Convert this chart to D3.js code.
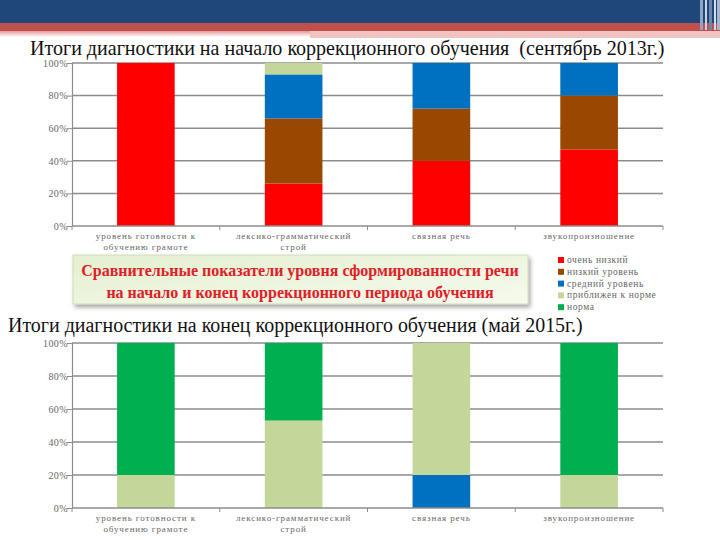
<!DOCTYPE html>
<html><head><meta charset="utf-8">
<script src="https://cdn.jsdelivr.net/npm/d3@7"></script>
<style>body{margin:0;background:#fff}svg{display:block}</style>
</head><body>
<svg id="c" width="720" height="540"></svg>
<script>
const categories = [
  ["уровень готовности к", "обучению грамоте"],
  ["лексико-грамматический", "строй"],
  ["связная речь"],
  ["звукопроизношение"]
];
const seriesNames = ["очень низкий", "низкий уровень", "средний уровень", "приближен к норме", "норма"];
const seriesColors = ["#FF0000", "#9A4800", "#0070C0", "#C4D79B", "#00B050"];
const yTicks = [0, 20, 40, 60, 80, 100];

// Sept 2013
const veryLow2013 = [100, 26, 40, 47];
const low2013     = [0, 40, 32, 33];
const mid2013     = [0, 27, 28, 20];
const near2013    = [0, 7, 0, 0];
const norm2013    = [0, 0, 0, 0];
// May 2015
const veryLow2015 = [0, 0, 0, 0];
const low2015     = [0, 0, 0, 0];
const mid2015     = [0, 0, 20, 0];
const near2015    = [20, 53, 80, 20];
const norm2015    = [80, 47, 0, 80];

const title1 = "Итоги диагностики на начало коррекционного обучения  (сентябрь 2013г.)";
const title2 = "Итоги диагностики на конец коррекционного обучения (май 2015г.)";
const boxLines = ["Сравнительные показатели уровня сформированности речи", "на начало и конец коррекционного периода обучения"];

const FONT = '"Liberation Serif", "Times New Roman", serif';
const svg = d3.select("#c");
const defs = svg.append("defs");

const g1 = defs.append("linearGradient").attr("id","fade").attr("x1",0).attr("y1",0).attr("x2",0).attr("y2",1);
g1.append("stop").attr("offset","0%").attr("stop-color","#E49A98");
g1.append("stop").attr("offset","100%").attr("stop-color","#FFFFFF");
const g2 = defs.append("linearGradient").attr("id","boxg").attr("x1",0).attr("y1",0).attr("x2",1).attr("y2",1);
g2.append("stop").attr("offset","0%").attr("stop-color","#E4F0CF");
g2.append("stop").attr("offset","100%").attr("stop-color","#F6FAEE");
const f = defs.append("filter").attr("id","sh").attr("x","-5%").attr("y","-20%").attr("width","115%").attr("height","150%");
f.append("feDropShadow").attr("dx",2).attr("dy",3).attr("stdDeviation",2).attr("flood-color","#000").attr("flood-opacity",0.35);

svg.append("rect").attr("x",0).attr("y",0).attr("width",720).attr("height",23).attr("fill","#1F4779");
svg.append("rect").attr("x",0).attr("y",23).attr("width",720).attr("height",8).attr("fill","#C0504D");
svg.append("rect").attr("x",0).attr("y",31).attr("width",720).attr("height",6).attr("fill","url(#fade)");
svg.append("rect").attr("x",310).attr("y",31).attr("width",410).attr("height",7).attr("fill","#F0C2C0");
svg.append("rect").attr("x",0).attr("y",38).attr("width",668).attr("height",3).attr("fill","#FFFFFF");
[[700,3,"#8FA4C4"],[705,2,"#C9D3E3"],[709,3,"#6D86AE"],[714,2,"#D6DDE9"],[717,3,"#A7B6CF"]].forEach(s=>{
  svg.append("rect").attr("x",s[0]).attr("y",0).attr("width",s[1]).attr("height",30).attr("fill",s[2]);
});

function fitText(sel, target){
  const w = sel.node().getComputedTextLength();
  const fs = parseFloat(sel.attr("font-size"));
  sel.attr("font-size", fs*target/w);
}

function drawChart(opts){
  const {y0, y1, titleText, titleX, titleY, titleW, data} = opts;
  const x = d3.scaleBand().domain(d3.range(categories.length)).range([72, 663]).padding(0);
  const y = d3.scaleLinear().domain([0,100]).range([y0, y1]);
  const g = svg.append("g");

  const t = svg.append("text").attr("x",titleX).attr("y",titleY).style("font-family",FONT)
    .attr("font-size",19).attr("fill","#111").attr("xml:space","preserve").text(titleText);
  fitText(t, titleW);

  g.selectAll("line.grid").data(yTicks.filter(d=>d>0)).join("line")
    .attr("x1",72).attr("x2",663).attr("y1",d=>y(d)).attr("y2",d=>y(d))
    .attr("stroke","#8C8C8C").attr("stroke-width",1.5);

  const rows = categories.map((c,i)=>{const o={i}; seriesNames.forEach((s,k)=>o[s]=data[k][i]); return o;});
  const stack = d3.stack().keys(seriesNames)(rows);
  const bw = x.bandwidth()*0.39;
  stack.forEach((layer,k)=>{
    g.selectAll(null).data(layer.filter(d=>d[1]-d[0]>0)).join("rect")
      .attr("x",d=>x(d.data.i)+x.bandwidth()/2-bw/2).attr("width",bw)
      .attr("y",d=>y(d[1])).attr("height",d=>y(d[0])-y(d[1]))
      .attr("fill",seriesColors[k]);
  });

  const ya = d3.axisLeft(y).tickValues(yTicks).tickSize(5).tickFormat(d=>d+"%");
  const yg = g.append("g").attr("transform","translate(72,0)").call(ya);
  yg.attr("font-family",null);
  yg.select(".domain").attr("stroke","#8C8C8C").attr("stroke-width",1.2);
  yg.selectAll(".tick line").attr("stroke","#8C8C8C");
  yg.selectAll("text").style("font-family",FONT).attr("font-size",10).attr("letter-spacing",0.4)
    .attr("fill","#666").attr("x",-4);

  const xa = g.append("g").attr("transform",`translate(0,${y0})`);
  xa.append("line").attr("x1",72).attr("x2",663).attr("stroke","#8C8C8C").attr("stroke-width",1.5);
  xa.selectAll("line.tk").data(d3.range(categories.length+1)).join("line")
    .attr("x1",d=>72+d*x.step()).attr("x2",d=>72+d*x.step()).attr("y1",0).attr("y2",4)
    .attr("stroke","#8C8C8C");
  const lab = xa.selectAll("text.cat").data(categories).join("text")
    .style("font-family",FONT).attr("font-size",9).attr("fill","#666")
    .attr("letter-spacing",0.9).attr("text-anchor","middle");
  lab.each(function(d,i){
    d3.select(this).selectAll("tspan").data(d).join("tspan")
      .attr("x",x(i)+x.bandwidth()/2).attr("y",(t,j)=>13+j*11).text(t=>t);
  });
}

drawChart({y0:226, y1:63, titleText:title1, titleX:30, titleY:55, titleW:635,
  data:[veryLow2013, low2013, mid2013, near2013, norm2013]});
drawChart({y0:508, y1:343, titleText:title2, titleX:8, titleY:332, titleW:575,
  data:[veryLow2015, low2015, mid2015, near2015, norm2015]});

svg.append("rect").attr("x",73).attr("y",255).attr("width",455).attr("height",49)
  .attr("fill","url(#boxg)").attr("stroke","#C9D8B0").attr("stroke-width",0.8).attr("filter","url(#sh)");
const bt = svg.selectAll("text.box").data(boxLines).join("text")
  .attr("x",300).attr("y",(d,i)=>276+i*22).attr("text-anchor","middle").style("font-family",FONT)
  .attr("font-weight","bold").attr("font-size",17)
  .attr("fill","#E02026").text(d=>d);
fitText(d3.select(bt.nodes()[0]), 438);
d3.select(bt.nodes()[1]).attr("font-size", d3.select(bt.nodes()[0]).attr("font-size"));

const lg = svg.append("g").attr("transform","translate(558,257)");
seriesNames.forEach((s,k)=>{
  lg.append("rect").attr("x",0).attr("y",k*11.8).attr("width",6).attr("height",6).attr("fill",seriesColors[k]);
  lg.append("text").attr("x",9).attr("y",k*11.8+6).style("font-family",FONT).attr("font-size",9.5)
    .attr("fill","#666").attr("letter-spacing",0.6).text(s);
});
</script>
</body></html>
